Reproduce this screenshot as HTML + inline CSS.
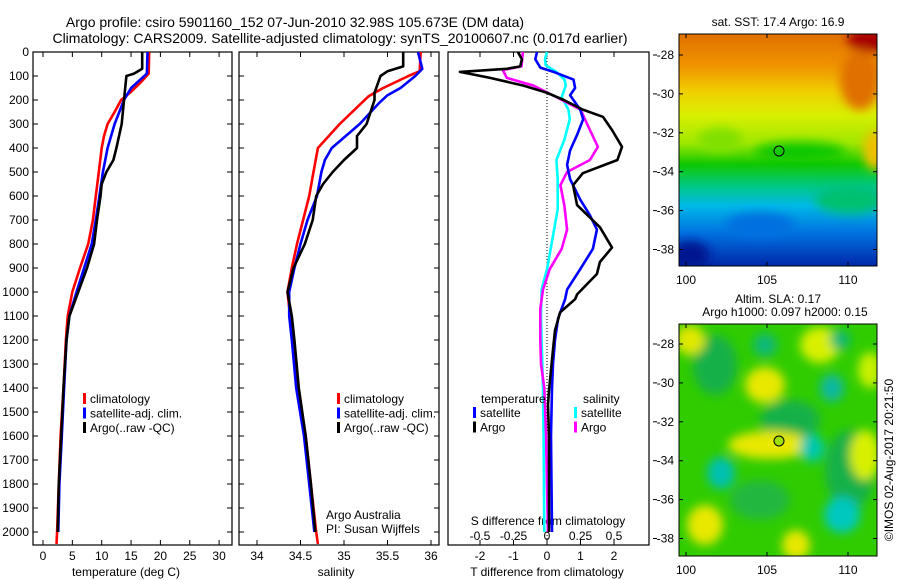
<!DOCTYPE html>
<html><head><meta charset="utf-8"><style>
body{margin:0;background:#fff;}
svg{display:block;font-family:"Liberation Sans",sans-serif;}
</style></head><body>
<svg id="c" width="900" height="580" viewBox="0 0 900 580" xmlns="http://www.w3.org/2000/svg">
<defs>
<filter id="bl" x="-50%" y="-50%" width="200%" height="200%"><feGaussianBlur stdDeviation="5"/></filter>
<linearGradient id="sstg" x1="0" y1="0" x2="0" y2="1">
<stop offset="0" stop-color="#e07000"/><stop offset="0.14" stop-color="#f09400"/><stop offset="0.25" stop-color="#f0d000"/><stop offset="0.35" stop-color="#d8f000"/><stop offset="0.47" stop-color="#a0e800"/><stop offset="0.56" stop-color="#10c800"/><stop offset="0.66" stop-color="#00c888"/><stop offset="0.74" stop-color="#00b8e8"/><stop offset="0.86" stop-color="#0070e0"/><stop offset="1" stop-color="#0028a8"/>
</linearGradient>
<clipPath id="m1c"><rect x="679" y="34" width="198" height="232"/></clipPath>
<clipPath id="m2c"><rect x="679" y="324" width="198" height="232"/></clipPath>
</defs>
<text x="295" y="27" font-size="14" text-anchor="middle">Argo profile: csiro 5901160_152 07-Jun-2010 32.98S 105.673E (DM data)</text>
<text x="340" y="43" font-size="14" text-anchor="middle">Climatology: CARS2009. Satellite-adjusted climatology: synTS_20100607.nc (0.017d earlier)</text>
<g id="g1"></g>
<g id="g2"></g>
<g id="g3"></g>
<g id="maps">
<text x="778" y="26" font-size="12" text-anchor="middle">sat. SST: 17.4  Argo: 16.9</text>
<g clip-path="url(#m1c)">
<rect x="679" y="34" width="198" height="232" fill="url(#sstg)"/>
<g filter="url(#bl)">
<ellipse cx="872" cy="40" rx="25" ry="12" fill="#a80000"/>
<ellipse cx="860" cy="80" rx="20" ry="30" fill="#e07000"/>
<ellipse cx="875" cy="150" rx="12" ry="20" fill="#f0c000"/>
<ellipse cx="720" cy="140" rx="22" ry="12" fill="#80e000"/>
<ellipse cx="800" cy="152" rx="45" ry="10" fill="#10c800"/>
<ellipse cx="850" cy="200" rx="35" ry="14" fill="#00c070"/>
<ellipse cx="760" cy="225" rx="35" ry="12" fill="#0070e0"/>
<ellipse cx="690" cy="255" rx="20" ry="14" fill="#001890"/>
</g>
</g>
<rect x="679" y="34" width="198" height="232" fill="none" stroke="#000"/>
<circle cx="779" cy="151" r="5" fill="none" stroke="#000"/>
<text x="778" y="303" font-size="12" text-anchor="middle">Altim. SLA: 0.17</text>
<text x="785" y="316" font-size="12" text-anchor="middle">Argo h1000: 0.097 h2000: 0.15</text>
<g clip-path="url(#m2c)">
<rect x="679" y="324" width="198" height="232" fill="#30cc00"/>
<g filter="url(#bl)">
<ellipse cx="715" cy="365" rx="22" ry="30" fill="#18b048"/>
<ellipse cx="790" cy="420" rx="30" ry="20" fill="#18b048"/>
<ellipse cx="850" cy="470" rx="25" ry="40" fill="#18b048"/>
<ellipse cx="760" cy="500" rx="30" ry="20" fill="#20b840"/>
<ellipse cx="690" cy="340" rx="15" ry="15" fill="#e0e800"/>
<ellipse cx="765" cy="345" rx="12" ry="12" fill="#10b878"/>
<ellipse cx="820" cy="345" rx="20" ry="18" fill="#d8f000"/>
<ellipse cx="840" cy="340" rx="10" ry="10" fill="#10b878"/>
<ellipse cx="870" cy="370" rx="12" ry="18" fill="#c8f000"/>
<ellipse cx="765" cy="385" rx="20" ry="18" fill="#e8e800"/>
<ellipse cx="832" cy="388" rx="12" ry="14" fill="#10b8a0"/>
<ellipse cx="770" cy="445" rx="42" ry="14" fill="#e8e800"/>
<ellipse cx="812" cy="448" rx="12" ry="14" fill="#00c8b0"/>
<ellipse cx="865" cy="455" rx="15" ry="25" fill="#d8f000"/>
<ellipse cx="721" cy="473" rx="14" ry="16" fill="#00c0b0"/>
<ellipse cx="705" cy="525" rx="18" ry="20" fill="#e8e800"/>
<ellipse cx="842" cy="515" rx="18" ry="18" fill="#00c8c0"/>
<ellipse cx="796" cy="545" rx="14" ry="15" fill="#e8e800"/>
</g>
</g>
<rect x="679" y="324" width="198" height="232" fill="none" stroke="#000"/>
<circle cx="779" cy="441" r="5" fill="#a0e000" stroke="#000"/>
<text transform="translate(893,460) rotate(-90)" font-size="12" text-anchor="middle">©IMOS 02-Aug-2017 20:21:50</text>
</g>
</svg>
<script>
// ----- data -----
const depthTicks=[0,100,200,300,400,500,600,700,800,900,1000,1100,1200,1300,1400,1500,1600,1700,1800,1900,2000];
const tempTicks=[0,5,10,15,20,25,30];
const salTicks=[34,34.5,35,35.5,36];
const salTickLabels=["34","34.5","35","35.5","36"];
const tdTicks=[-2,-1,0,1,2];
const sdTicks=[-0.5,-0.25,0,0.25,0.5];
const sdTickLabels=["-0.5","-0.25","0","0.25","0.5"];

const tClimDepth=[0,90,130,170,200,250,300,350,400,500,600,700,800,900,1000,1100,1200,1400,1600,1800,2000,2050];
const tClim=[18.1,18.0,16.5,14.8,13.3,12.2,11,10.4,10,9.5,9,8.5,7.7,6.3,5,4.2,3.9,3.5,3.0,2.7,2.4,2.3];
const tSatDepth=[0,90,150,200,300,400,500,600,700,800,900,1000,1100,1200,1400,1600,1800,2000];
const tSat=[17.8,17.7,15,13.8,12.2,11,10.2,9.6,9,8.3,7,5.7,4.5,4,3.6,3.2,2.8,2.6];
const tArgoDepth=[0,70,90,100,150,200,300,400,450,500,550,600,700,800,900,1000,1100,1200,1400,1600,1800,2000];
const tArgo=[16.9,16.9,15.5,14.2,14.0,13.8,13.4,12.5,12,10.8,10,9.8,9.2,8.7,7.5,6,4.5,4,3.5,3.1,2.7,2.5];

const sClimDepth=[0,80,100,150,185,300,400,500,600,700,800,900,1000,1100,1200,1400,1600,1800,2000,2050];
const sClim=[35.88,35.87,35.74,35.45,35.28,34.95,34.70,34.65,34.6,34.53,34.46,34.40,34.35,34.38,34.41,34.47,34.56,34.62,34.68,34.7];
const sSatDepth=[0,70,100,150,180,210,300,400,450,500,600,700,800,900,1000,1100,1200,1400,1600,1800,2000];
const sSat=[35.85,35.9,35.82,35.65,35.5,35.41,35.18,34.86,34.78,34.74,34.69,34.58,34.5,34.43,34.37,34.37,34.4,34.45,34.54,34.6,34.66];
const sArgoDepth=[0,60,80,100,170,200,300,350,400,450,500,550,600,700,800,900,1000,1100,1200,1400,1600,1800,2000];
const sArgo=[35.68,35.68,35.5,35.42,35.35,35.35,35.26,35.15,35.15,35.0,34.87,34.76,34.68,34.64,34.55,34.42,34.35,34.4,34.43,34.48,34.56,34.62,34.67];

const dTArgoDepth=[0,30,60,70,83,108,140,170,200,240,270,325,395,450,505,555,638,730,815,875,925,1010,1030,1085,1160,1240,1410,1470,1600,2000];
const dTArgo=[-0.87,-0.75,-0.8,-1.2,-2.6,-1.7,-0.7,0,0.5,1.07,1.67,1.94,2.24,2.1,1.07,0.78,0.9,1.58,1.94,1.58,1.49,0.9,0.84,0.39,0.24,0.18,0.06,0.03,0.06,0.06];
const dTSatDepth=[0,30,65,85,115,150,180,240,280,345,410,470,530,615,680,740,820,905,990,1030,1110,1200,1300,1400,1600,2000];
const dTSat=[-0.3,-0.35,-0.2,0.24,0.79,0.84,0.69,0.99,1.08,0.9,0.69,0.6,0.69,0.99,1.28,1.49,1.37,0.99,0.6,0.54,0.33,0.24,0.18,0.15,0.12,0.15];
const dSArgoDepth=[0,60,75,108,140,188,240,325,395,450,500,555,640,740,820,905,990,1070,1200,1300,1400,1600,1800,2000];
const dSArgo=[-0.18,-0.19,-0.33,-0.3,-0.1,0.07,0.25,0.32,0.38,0.32,0.15,0.1,0.13,0.15,0.11,0.02,-0.03,-0.05,-0.05,-0.045,-0.02,-0.007,0,0.007];
const dSSatDepth=[0,30,55,83,115,140,188,240,280,365,450,530,655,780,905,990,1100,1200,1400,1600,2000];
const dSSat=[0,-0.015,-0.01,0.07,0.13,0.14,0.11,0.16,0.17,0.13,0.07,0.08,0.08,0.04,0,-0.04,-0.045,-0.04,-0.03,-0.025,-0.02];

const latTicks=[-28,-30,-32,-34,-36,-38];
const lonTicks=[100,105,110];

// ----- helpers -----
const NS='http://www.w3.org/2000/svg';
function mk(tag,attrs,parent,txt){const e=document.createElementNS(NS,tag);for(const k in attrs)e.setAttribute(k,attrs[k]);if(txt!==undefined)e.textContent=txt;parent.appendChild(e);return e;}
const Y0=52,Y1=545;
function yD(d){return 52+d*0.24;}
function xT(t){return 43+t*5.87;}
function xS(s){return 257+(s-34)*87;}
function xTD(t){return 547+t*33.5;}
function xSD(s){return 547+s*134;}

function frame(g,x0,x1,name){
  const r=mk('rect',{x:x0,y:Y0,width:x1-x0,height:Y1-Y0,fill:'none',stroke:'#000','stroke-width':1.2},g);
  
  
  depthTicks.forEach(d=>{const y=yD(d);
    mk('line',{x1:x0,y1:y,x2:x0+5,y2:y,stroke:'#000'},g);
    mk('line',{x1:x1,y1:y,x2:x1-5,y2:y,stroke:'#000'},g);});
}
function xticks(g,vals,labels,fx,y,name){
  vals.forEach((v,i)=>{const x=fx(v);
    mk('line',{x1:x,y1:Y0,x2:x,y2:Y0+5,stroke:'#000'},g);
    mk('line',{x1:x,y1:Y1,x2:x,y2:Y1-5,stroke:'#000'},g);
    const t=mk('text',{x:x,y:y,'font-size':12,'text-anchor':'middle'},g,labels[i]);
    
    });
}
function line(g,depths,vals,fx,color,name,w){
  const p=mk('polyline',{points:depths.map((d,i)=>fx(vals[i]).toFixed(1)+','+yD(d).toFixed(1)).join(' '),fill:'none',stroke:color,'stroke-width':w||2.6,'stroke-linejoin':'round'},g);
  
  
}
function legend(g,x,y,items,name){
  items.forEach((it,i)=>{const yy=y+i*14.5;
    mk('rect',{x:x,y:yy-10,width:3,height:11,fill:it[1]},g);
    const t=mk('text',{x:x+7,y:yy,'font-size':12},g,it[0]);
    
    });
}

// panel 1
const g1=document.getElementById('g1');
frame(g1,33,232,'temperature');
depthTicks.forEach(d=>{const t=mk('text',{x:29,y:yD(d)+4,'font-size':12,'text-anchor':'end'},g1,String(d));
  
  });
xticks(g1,tempTicks,tempTicks.map(String),xT,560,'temperature');
mk('text',{x:126,y:576,'font-size':12,'text-anchor':'middle'},g1,'temperature (deg C)');
line(g1,tClimDepth,tClim,xT,'#f00','temp-climatology-line');
line(g1,tSatDepth,tSat,xT,'#00f','temp-satellite-line');
line(g1,tArgoDepth,tArgo,xT,'#000','temp-argo-line');
legend(g1,83,403,[['climatology','#f00'],['satellite-adj. clim.','#00f'],['Argo(..raw -QC)','#000']],'temp-legend');

// panel 2
const g2=document.getElementById('g2');
frame(g2,239,439,'salinity');
xticks(g2,salTicks,salTickLabels,xS,560,'salinity');
mk('text',{x:336,y:576,'font-size':12,'text-anchor':'middle'},g2,'salinity');
line(g2,sClimDepth,sClim,xS,'#f00','sal-climatology-line');
line(g2,sSatDepth,sSat,xS,'#00f','sal-satellite-line');
line(g2,sArgoDepth,sArgo,xS,'#000','sal-argo-line');
legend(g2,337,403,[['climatology','#f00'],['satellite-adj. clim.','#00f'],['Argo(..raw -QC)','#000']],'sal-legend');
mk('text',{x:326,y:519,'font-size':12},g2,'Argo Australia');
mk('text',{x:326,y:533,'font-size':12},g2,'PI: Susan Wijffels');

// panel 3
const g3=document.getElementById('g3');
mk('rect',{x:448,y:Y0,width:201,height:Y1-Y0,fill:'none',stroke:'#000','stroke-width':1.2},g3);
tdTicks.forEach(v=>{const x=xTD(v);
  mk('line',{x1:x,y1:Y0,x2:x,y2:Y0+5,stroke:'#000'},g3);
  mk('line',{x1:x,y1:Y1,x2:x,y2:Y1-5,stroke:'#000'},g3);
  const t=mk('text',{x:x,y:560,'font-size':12,'text-anchor':'middle'},g3,String(v));
  
  });
sdTicks.forEach((v,i)=>{const t=mk('text',{x:xSD(v),y:540,'font-size':12,'text-anchor':'middle'},g3,sdTickLabels[i]);
  
  });
mk('text',{x:548,y:525,'font-size':12,'text-anchor':'middle'},g3,'S difference from climatology');
mk('text',{x:547,y:576,'font-size':12,'text-anchor':'middle'},g3,'T difference from climatology');
mk('line',{x1:xTD(0),y1:Y0,x2:xTD(0),y2:Y1,stroke:'#000','stroke-dasharray':'1,2'},g3);
line(g3,dSSatDepth,dSSat,xSD,'#0ff','sdiff-satellite-line');
line(g3,dSArgoDepth,dSArgo,xSD,'#f0f','sdiff-argo-line');
line(g3,dTSatDepth,dTSat,xTD,'#00f','tdiff-satellite-line');
line(g3,dTArgoDepth,dTArgo,xTD,'#000','tdiff-argo-line');
mk('text',{x:481,y:403,'font-size':12},g3,'temperature');
mk('text',{x:583,y:403,'font-size':12},g3,'salinity');
legend(g3,473,417,[['satellite','#00f'],['Argo','#000']],'tdiff-legend');
legend(g3,574,417,[['satellite','#0ff'],['Argo','#f0f']],'sdiff-legend');

// map axes
const mg=document.getElementById('maps');
function mapAxes(top,lat28){
  latTicks.forEach(v=>{const y=lat28+(-28-v)*19.45;
    mk('line',{x1:679,y1:y,x2:683,y2:y,stroke:'#000'},mg);
    mk('line',{x1:877,y1:y,x2:873,y2:y,stroke:'#000'},mg);
    mk('line',{x1:653,y1:y,x2:657,y2:y,stroke:'#000'},mg);
    const t=mk('text',{x:674,y:y+4,'font-size':12,'text-anchor':'end'},mg,String(v));
    
    });
  lonTicks.forEach(v=>{const x=686+(v-100)*16.2;
    mk('line',{x1:x,y1:top,x2:x,y2:top+4,stroke:'#000'},mg);
    mk('line',{x1:x,y1:top+232,x2:x,y2:top+228,stroke:'#000'},mg);
    const t=mk('text',{x:x,y:top+250,'font-size':12,'text-anchor':'middle'},mg,String(v));
    
    });
}
mapAxes(34,55);
mapAxes(324,344);
</script>
</body></html>
